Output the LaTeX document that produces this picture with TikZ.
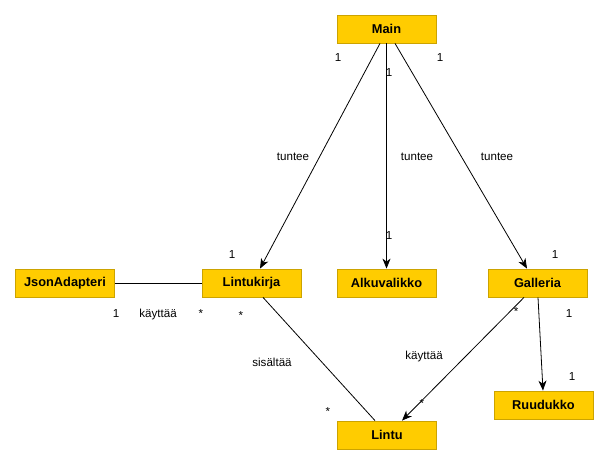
\documentclass[tikz,border=0pt]{standalone}
\usepackage{fontspec}
\setmainfont{Liberation Sans}
\usetikzlibrary{arrows.meta}
\definecolor{luokka}{RGB}{255,204,0}
\definecolor{reuna}{RGB}{204,163,0}

\begin{document}
\begin{tikzpicture}[x=1pt,y=-1pt,
    luokka/.style={draw=reuna,fill=luokka,line width=0.8pt,minimum width=99pt,minimum height=28pt,
      inner sep=0pt,font=\fontsize{12.8}{14}\selectfont\bfseries},
    teksti/.style={font=\fontsize{11.6}{13}\selectfont,inner sep=0pt},
    yhteys/.style={line width=0.8pt},
    nuoli/.style={yhteys,-{Stealth[length=10pt,width=8pt,inset=3pt]}}]
    \useasboundingbox (0,0) rectangle (610,464);
    \node[luokka] (main) at (386.5,29) {Main};
    \node[luokka] (json) at (65,283) {JsonAdapteri};
    \node[luokka] (lintukirja) at (251.5,283) {Lintukirja};
    \node[luokka] (alkuvalikko) at (386.5,283) {Alkuvalikko};
    \node[luokka] (galleria) at (537.5,283) {Galleria};
    \node[luokka] (ruudukko) at (543.5,405) {Ruudukko};
    \node[luokka] (lintu) at (387,435) {Lintu};
    \draw[nuoli] ([xshift=-6.5pt]main.south) -- ([xshift=8.5pt]lintukirja.north);
    \draw[nuoli] (main.south) -- (alkuvalikko.north);
    \draw[nuoli] ([xshift=8.5pt]main.south) -- ([xshift=-10.5pt]galleria.north);
    \draw[yhteys] (json) -- (lintukirja);
    \draw[yhteys] ([xshift=11.5pt]lintukirja.south) -- ([xshift=-12pt]lintu.north);
    \draw[nuoli] ([xshift=-13.5pt]galleria.south) -- ([xshift=15pt]lintu.north);
    \draw[nuoli] ([xshift=0.5pt]galleria.south) -- ([xshift=-0.5pt]ruudukko.north);
    \node[teksti] (t1) at (293,157) {tuntee};
    \node[teksti] (t2) at (417,157) {tuntee};
    \node[teksti] (t3) at (497,157) {tuntee};
    \node[teksti] (m1) at (338,58) {1};
    \node[teksti] (m2) at (232,255) {1};
    \node[teksti] (m3) at (389,73) {1};
    \node[teksti] (m4) at (389,236) {1};
    \node[teksti] (m5) at (440,58) {1};
    \node[teksti] (m6) at (555,255) {1};
    \node[teksti] (k1) at (116,314) {1};
    \node[teksti] (k2) at (158,314) {käyttää};
    \node[teksti] (k3) at (201,314) {*};
    \node[teksti] (s1) at (241,316) {*};
    \node[teksti] (s2) at (272,362) {sisältää};
    \node[teksti] (s3) at (328,412) {*};
    \node[teksti] (g1) at (516,312) {*};
    \node[teksti] (g2) at (424,356) {käyttää};
    \node[teksti] (g3) at (422,404) {*};
    \node[teksti] (r1) at (569,314) {1};
    \node[teksti] (r2) at (572,377) {1};
  \end{tikzpicture}
\end{document}
